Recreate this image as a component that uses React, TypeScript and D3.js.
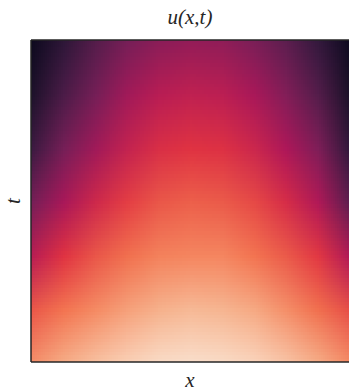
import React, { useMemo } from 'react';
import * as d3 from 'd3';

// grid nodes (x from left to right, t from top to bottom)
const xNodes = [0, 0.1, 0.2, 0.3, 0.4, 0.5, 0.6, 0.7, 0.8, 0.9, 1.0];
const tNodes = [1.0, 0.833, 0.667, 0.5, 0.333, 0.167, 0.0];

// u(x,t), one row per t level
const uT100 = [0.02, 0.12, 0.22, 0.3, 0.35, 0.37, 0.36, 0.31, 0.24, 0.14, 0.02];
const uT083 = [0.07, 0.2, 0.3, 0.4, 0.46, 0.48, 0.47, 0.42, 0.33, 0.22, 0.06];
const uT067 = [0.16, 0.3, 0.4, 0.49, 0.55, 0.57, 0.56, 0.51, 0.43, 0.32, 0.13];
const uT050 = [0.3, 0.42, 0.52, 0.59, 0.64, 0.66, 0.65, 0.61, 0.54, 0.44, 0.24];
const uT033 = [0.46, 0.57, 0.64, 0.7, 0.74, 0.75, 0.75, 0.71, 0.65, 0.58, 0.44];
const uT017 = [0.64, 0.71, 0.76, 0.81, 0.85, 0.87, 0.86, 0.83, 0.77, 0.7, 0.62];
const uT000 = [0.77, 0.84, 0.89, 0.93, 0.96, 0.97, 0.96, 0.94, 0.9, 0.84, 0.76];
const uRows = [uT100, uT083, uT067, uT050, uT033, uT017, uT000];

// seaborn "rocket"
const rocketStops = ['#03051a', '#35193e', '#701f57', '#ad1759', '#e13342', '#f37651', '#f6b48f', '#faebdd'];

const W = 349,
  H = 391;
const margin = { top: 40, right: 0, bottom: 29, left: 31 };
const plotW = W - margin.left - margin.right;
const plotH = H - margin.top - margin.bottom;

export default function App() {
  const color = d3
    .scaleLinear<string>()
    .domain(rocketStops.map((_, i) => i / (rocketStops.length - 1)))
    .range(rocketStops)
    .interpolate(d3.interpolateLab)
    .clamp(true);

  const xScale = d3.scaleLinear().domain([0, 1]).range([0, plotW]);
  const yScale = d3.scaleLinear().domain([0, 1]).range([plotH, 0]);

  // small raster, one pixel per grid node; the browser smooths it when stretched
  const href = useMemo(() => {
    const canvas = document.createElement('canvas');
    canvas.width = xNodes.length;
    canvas.height = tNodes.length;
    const ctx = canvas.getContext('2d');
    if (!ctx) return '';
    const img = ctx.createImageData(canvas.width, canvas.height);
    uRows.forEach((row, j) => {
      row.forEach((v, i) => {
        const c = d3.rgb(color(v));
        const k = (j * canvas.width + i) * 4;
        img.data[k] = c.r;
        img.data[k + 1] = c.g;
        img.data[k + 2] = c.b;
        img.data[k + 3] = 255;
      });
    });
    ctx.putImageData(img, 0, 0);
    return canvas.toDataURL();
  }, []);

  const dx = (xNodes[1] - xNodes[0]) / 2;
  const dt = (tNodes[0] - tNodes[1]) / 2;
  const imgX = xScale(xNodes[0] - dx);
  const imgW = xScale(xNodes[xNodes.length - 1] + dx) - imgX;
  const imgY = yScale(tNodes[0] + dt);
  const imgH = yScale(tNodes[tNodes.length - 1] - dt) - imgY;

  const spine = '#262626';
  const labelFont = "'Liberation Serif', serif";

  return (
    <svg width={W} height={H} style={{ position: 'absolute', left: 0, top: 0 }}>
      <defs>
        <clipPath id="plot-clip">
          <rect x={0} y={0} width={plotW} height={plotH} />
        </clipPath>
      </defs>
      <g transform={`translate(${margin.left},${margin.top})`}>
        <g clipPath="url(#plot-clip)">
          <image
            href={href}
            x={imgX}
            y={imgY}
            width={imgW}
            height={imgH}
            preserveAspectRatio="none"
          />
        </g>
        {/* spines */}
        <line x1={0} x2={0} y1={0} y2={plotH} stroke={spine} strokeWidth={1.5} />
        <line x1={0} x2={plotW} y1={0} y2={0} stroke={spine} strokeWidth={1.5} />
        <line x1={0} x2={plotW} y1={plotH} y2={plotH} stroke={spine} strokeWidth={1.5} />
      </g>
      <text x={190} y={24} textAnchor="middle" fontFamily={labelFont} fontStyle="italic" fontSize={21} fill={spine}>
        u(x,t)
      </text>
      <text x={190} y={387} textAnchor="middle" fontFamily={labelFont} fontStyle="italic" fontSize={21} fill={spine}>
        x
      </text>
      <text
        transform="translate(20,201) rotate(-90)"
        textAnchor="middle"
        fontFamily={labelFont}
        fontStyle="italic"
        fontSize={21}
        fill={spine}
      >
        t
      </text>
    </svg>
  );
}
